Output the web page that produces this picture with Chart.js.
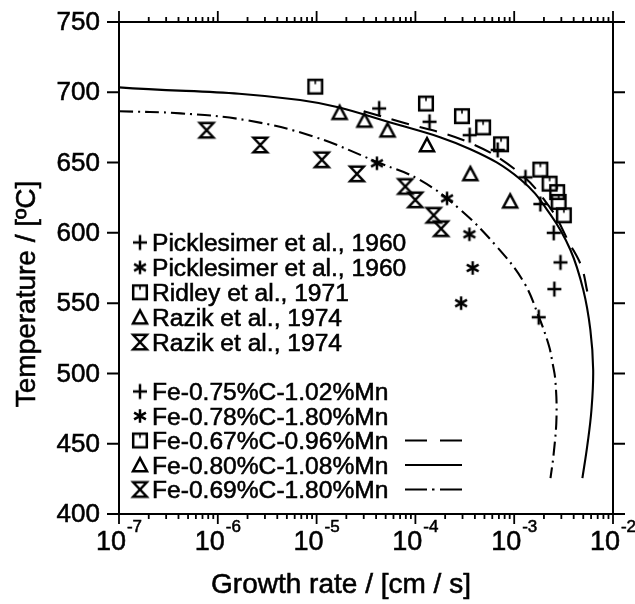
<!DOCTYPE html>
<html>
<head>
<meta charset="utf-8">
<script src="https://cdn.jsdelivr.net/npm/chart.js@4/dist/chart.umd.min.js"></script>
<style>
  html, body { margin: 0; padding: 0; background: #fff; }
  #wrap { width: 635px; height: 604px; }
</style>
</head>
<body>
<div id="wrap"><canvas id="c" width="635" height="604"></canvas></div>
<script>
// ---------------- data ----------------
// Picklesimer et al., 1960  (+)  Fe-0.75%C-1.02%Mn
const plusX = [4.3e-5, 1.39e-4, 3.54e-4, 6.8e-4, 1.30e-3, 1.84e-3, 2.51e-3, 2.94e-3, 2.55e-3, 1.77e-3];
const plusT = [688.5, 679, 669.5, 659, 639.5, 620.5, 600, 579, 560, 540];
// Picklesimer et al., 1960  (*)  Fe-0.78%C-1.80%Mn
const starX = [4.08e-5, 2.09e-4, 3.52e-4, 3.80e-4, 2.9e-4];
const starT = [649.5, 624.5, 599, 575, 550];
// Ridley et al., 1971  (square)  Fe-0.67%C-0.96%Mn
const squareX = [9.7e-6, 1.28e-4, 2.96e-4, 4.84e-4, 7.36e-4, 1.84e-3, 2.28e-3, 2.72e-3, 2.82e-3, 3.18e-3];
const squareT = [704, 692, 683, 675, 663, 645, 635, 629, 622, 612.5];
// Razik et al., 1974  (triangle)  Fe-0.80%C-1.08%Mn
const triX = [1.71e-5, 3.05e-5, 5.22e-5, 1.31e-4, 3.6e-4, 9.1e-4];
const triT = [685.5, 680, 673, 662.5, 642, 622.5];
// Razik et al., 1974  (hourglass)  Fe-0.69%C-1.80%Mn
const hourX = [7.7e-7, 2.69e-6, 1.13e-5, 2.56e-5, 7.9e-5, 9.97e-5, 1.53e-4, 1.82e-4];
const hourT = [673, 662.5, 652, 642, 633, 623.5, 612.5, 603];

// calculated curves
const dashX = [3e-5, 7e-5, 3.3e-4, 1.07e-3, 2.3e-3, 3.6e-3, 4.8e-3, 5.5e-3];
const dashT = [686.5, 679, 665, 644, 618, 593, 576, 558];
const solidX = [1e-7, 6.8e-6, 7.0e-5, 3.6e-4, 1.16e-3, 2.33e-3, 3.7e-3, 5.0e-3, 5.9e-3, 6.3e-3, 6.05e-3, 5.5e-3, 4.9e-3];
const solidT = [703.5, 694.5, 676.5, 659.5, 638, 613, 588, 559.5, 531, 502.5, 474, 449, 425.5];
const ddX = [1e-7, 4.2e-7, 2e-6, 9.3e-6, 4.4e-5, 1.12e-4, 2.85e-4, 6.7e-4, 1.25e-3, 1.77e-3, 2.24e-3, 2.45e-3, 2.61e-3, 2.68e-3, 2.51e-3, 2.33e-3];
const ddT = [686.5, 685, 680, 668.5, 649.5, 637.5, 616.5, 590, 565, 540.5, 520, 507, 495, 469, 443, 425.5];

// axes
const xTickExps = [-7, -6, -5, -4, -3, -2];
const yTicks = [400, 450, 500, 550, 600, 650, 700, 750];
const xTitle = 'Growth rate / [cm / s]';
const yTitle = 'Temperature / [\u00BAC]';

// legends
const legendRefs = ['Picklesimer et al., 1960', 'Picklesimer et al., 1960', 'Ridley et al., 1971', 'Razik et al., 1974', 'Razik et al., 1974'];
const legendAlloys = ['Fe-0.75%C-1.02%Mn', 'Fe-0.78%C-1.80%Mn', 'Fe-0.67%C-0.96%Mn', 'Fe-0.80%C-1.08%Mn', 'Fe-0.69%C-1.80%Mn'];
const legendLines = [null, null, 'dash', 'solid', 'dashdot'];

// ---------------- marker images ----------------
const FONT = '"Liberation Sans", Arial, Helvetica, sans-serif';
function mk(draw) {
  const s = 22, c = document.createElement('canvas');
  c.width = s; c.height = s;
  const g = c.getContext('2d');
  g.translate(s / 2, s / 2);
  g.strokeStyle = '#000'; g.lineWidth = 2.5; g.lineJoin = 'miter';
  draw(g);
  return c;
}
const imgPlus = mk(g => { g.beginPath(); g.moveTo(-7, 0); g.lineTo(7, 0); g.moveTo(0, -7.5); g.lineTo(0, 7.5); g.stroke(); });
const imgStar = mk(g => {
  g.beginPath();
  for (let k = 0; k < 3; k++) {
    const a = Math.PI / 2 + k * Math.PI / 3, r = 6.8;
    g.moveTo(Math.cos(a) * r, Math.sin(a) * r); g.lineTo(-Math.cos(a) * r, -Math.sin(a) * r);
  }
  g.stroke();
});
const imgSquare = mk(g => { g.strokeRect(-6.8, -6.8, 13.6, 13.6); g.beginPath(); g.moveTo(0, -6.8); g.lineTo(0, -2.5); g.lineWidth = 1.6; g.stroke(); });
const imgTri = mk(g => { g.beginPath(); g.moveTo(0, -6.8); g.lineTo(7, 6.2); g.lineTo(-7, 6.2); g.closePath(); g.stroke(); });
const imgHour = mk(g => { g.beginPath(); g.moveTo(-6.8, -7.2); g.lineTo(6.8, -7.2); g.lineTo(-6.8, 7.2); g.lineTo(6.8, 7.2); g.closePath(); g.stroke(); });
const legendImgs = [imgPlus, imgStar, imgSquare, imgTri, imgHour];

function pts(xs, ys) { return xs.map((x, i) => ({ x: x, y: ys[i] })); }
function markerSet(label, xs, ys, img) {
  return { label, data: pts(xs, ys), showLine: false, pointStyle: img, pointRadius: 7, borderColor: '#000', backgroundColor: '#000' };
}
function curveSet(label, xs, ys, dash) {
  return { label, data: pts(xs, ys), showLine: true, pointRadius: 0, borderColor: '#000', borderWidth: 2.1, borderDash: dash, tension: 0.4, fill: false };
}

// text drawn slightly heavier, like the printed original
function txt(ctx, s, x, y) {
  ctx.fillText(s, x, y);
  ctx.save(); ctx.lineWidth = 0.55; ctx.strokeText(s, x, y); ctx.restore();
}

// ---------------- decorations: frame, ticks, labels, legend ----------------
const deco = {
  id: 'deco',
  afterDraw(chart) {
    const ctx = chart.ctx, ca = chart.chartArea, xs = chart.scales.x, ys = chart.scales.y;
    ctx.save();
    ctx.strokeStyle = '#000'; ctx.fillStyle = '#000'; ctx.lineWidth = 2;
    ctx.strokeRect(ca.left, ca.top, ca.right - ca.left, ca.bottom - ca.top);
    // y ticks + labels
    ctx.font = '26px ' + FONT; ctx.textAlign = 'right'; ctx.textBaseline = 'middle';
    yTicks.forEach(v => {
      const py = ys.getPixelForValue(v);
      ctx.lineWidth = 2;
      ctx.beginPath(); ctx.moveTo(ca.left - 12, py); ctx.lineTo(ca.left, py);
      ctx.moveTo(ca.right, py); ctx.lineTo(ca.right + 12, py); ctx.stroke();
      txt(ctx, String(v), ca.left - 19, py + 1);
    });
    // x ticks
    xTickExps.forEach(e => {
      const px = xs.getPixelForValue(Math.pow(10, e));
      ctx.lineWidth = 1.8;
      ctx.beginPath(); ctx.moveTo(px, ca.bottom); ctx.lineTo(px, ca.bottom + 10);
      ctx.moveTo(px, ca.top); ctx.lineTo(px, ca.top - 11); ctx.stroke();
      if (e < -2) {
        for (let m = 2; m <= 9; m++) {
          const q = xs.getPixelForValue(m * Math.pow(10, e));
          ctx.beginPath(); ctx.moveTo(q, ca.bottom); ctx.lineTo(q, ca.bottom + 5);
          ctx.moveTo(q, ca.top); ctx.lineTo(q, ca.top - 5); ctx.stroke();
        }
      }
      // label 10^e
      ctx.textAlign = 'left'; ctx.textBaseline = 'alphabetic';
      ctx.font = '27px ' + FONT; const wb = ctx.measureText('10').width;
      ctx.font = '17px ' + FONT; const ex = String(e); const we = ctx.measureText(ex).width;
      const x0 = px - (wb + 1 + we) / 2;
      ctx.font = '27px ' + FONT; txt(ctx, '10', x0, 550);
      ctx.font = '17px ' + FONT; txt(ctx, ex, x0 + wb + 1, 532);
    });
    // axis titles
    ctx.font = '28px ' + FONT; ctx.textAlign = 'center'; ctx.textBaseline = 'alphabetic';
    txt(ctx, xTitle, 341, 593);
    ctx.save(); ctx.translate(35, 294); ctx.rotate(-Math.PI / 2); txt(ctx, yTitle, 0, 0); ctx.restore();
    // legends
    ctx.font = '24.6px ' + FONT; ctx.textAlign = 'left';
    const mX = 140, tX = 152;
    legendRefs.forEach((t, i) => {
      const y = 242.5 + i * 24.9;
      ctx.drawImage(legendImgs[i], mX - 11, y - 11);
      txt(ctx, t, tX, y + 8.8);
    });
    legendAlloys.forEach((t, i) => {
      const y = 391.5 + i * 24.5;
      ctx.drawImage(legendImgs[i], mX - 11, y - 11);
      txt(ctx, t, tX, y + 8.8);
      const kind = legendLines[i];
      if (kind) {
        ctx.lineWidth = 2; ctx.beginPath();
        if (kind === 'solid') { ctx.moveTo(405, y); ctx.lineTo(462, y); }
        else if (kind === 'dash') { ctx.moveTo(405, y); ctx.lineTo(427, y); ctx.moveTo(440, y); ctx.lineTo(462, y); }
        else { ctx.moveTo(405, y); ctx.lineTo(427, y); ctx.moveTo(432, y); ctx.lineTo(434.5, y); ctx.moveTo(440, y); ctx.lineTo(462, y); }
        ctx.stroke();
      }
    });
    ctx.restore();
  }
};

new Chart(document.getElementById('c'), {
  type: 'scatter',
  data: {
    datasets: [
      curveSet('Fe-0.67%C-0.96%Mn (calc.)', dashX, dashT, [18, 11]),
      curveSet('Fe-0.80%C-1.08%Mn (calc.)', solidX, solidT, []),
      curveSet('Fe-0.69%C-1.80%Mn (calc.)', ddX, ddT, [14, 5, 2, 5]),
      markerSet('Picklesimer et al., 1960 (+)', plusX, plusT, imgPlus),
      markerSet('Picklesimer et al., 1960 (*)', starX, starT, imgStar),
      markerSet('Ridley et al., 1971', squareX, squareT, imgSquare),
      markerSet('Razik et al., 1974 (triangle)', triX, triT, imgTri),
      markerSet('Razik et al., 1974 (hourglass)', hourX, hourT, imgHour)
    ]
  },
  options: {
    responsive: false,
    animation: false,
    devicePixelRatio: 1,
    layout: { padding: { left: 119, top: 22, right: 22, bottom: 90 } },
    plugins: { legend: { display: false }, tooltip: { enabled: false } },
    scales: {
      x: { type: 'logarithmic', min: 1e-7, max: 1e-2, display: false },
      y: { type: 'linear', min: 400, max: 750, display: false }
    }
  },
  plugins: [deco]
});
</script>
</body>
</html>
